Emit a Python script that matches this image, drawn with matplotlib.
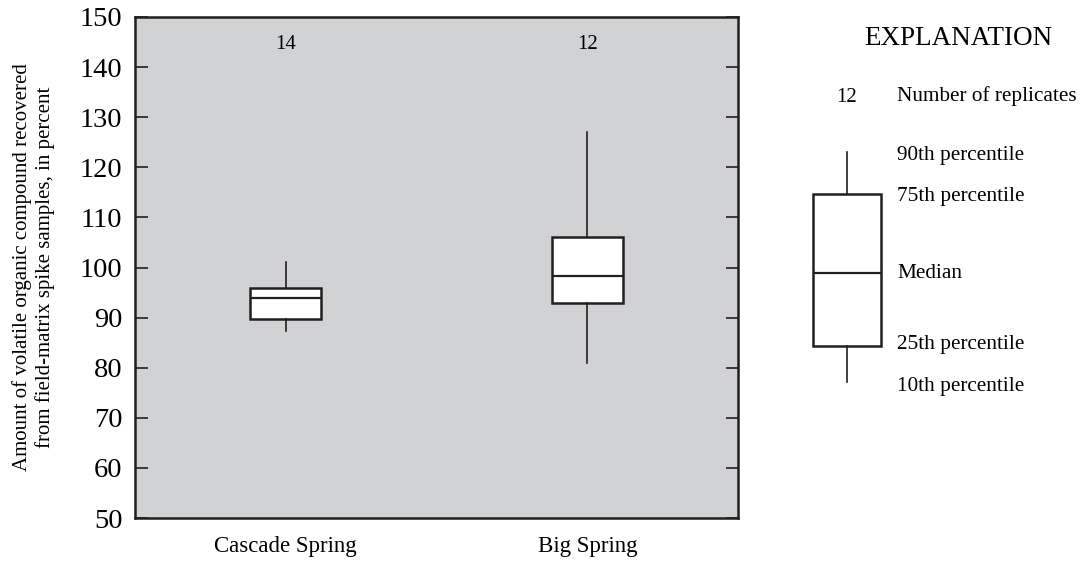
import numpy as np
import matplotlib.pyplot as plt

plt.rcParams['font.family'] = ['Liberation Serif', 'DejaVu Serif']

# data
sites = ['Cascade Spring', 'Big Spring']
p10 = [87.3, 80.9]
p25 = [89.7, 92.9]
median = [94.0, 98.3]
p75 = [96.0, 106.1]
p90 = [101.0, 127.1]
n_replicates = [14, 12]

# explanation (schematic) box, in panel units (0 = bottom, 561 = top)
expl_stats = [179, 215, 288, 367, 409]
expl_labels = ['10th percentile', '25th percentile', 'Median',
               '75th percentile', '90th percentile']
expl_label_y = [174, 216, 288, 365, 406]

dark = '#231f20'
fig = plt.figure(figsize=(10.82, 5.61), dpi=100)
ax = fig.add_axes([135 / 1082, 1 - 518 / 561, 603 / 1082, 501 / 561])
ax.set_facecolor('#d1d2d4')

stats = []
for i in range(len(sites)):
    stats.append(dict(med=median[i], q1=p25[i], q3=p75[i],
                      whislo=p10[i], whishi=p90[i], fliers=[]))

box_kw = dict(showcaps=False, patch_artist=True,
              boxprops=dict(facecolor='white', edgecolor=dark, linewidth=1.8),
              medianprops=dict(color=dark, linewidth=1.6),
              whiskerprops=dict(color=dark, linewidth=1.2))
ax.bxp(stats, positions=[1, 2], widths=0.235, **box_kw)

for i in range(len(sites)):
    ax.text(i + 1, 144.5, str(n_replicates[i]), ha='center', va='center', fontsize=15)

ax.set_xlim(0.5, 2.5)
ax.set_ylim(50, 150)
ax.set_yticks(np.arange(50, 151, 10))
ax.set_xticks([1, 2])
ax.set_xticklabels(sites, fontsize=16.5)
ax.tick_params(axis='y', direction='in', length=9, width=1.2, right=True,
               labelsize=20.5, pad=9, color=dark)
ax.tick_params(axis='x', length=0, pad=13)
for s in ax.spines.values():
    s.set_linewidth(1.8)
    s.set_color(dark)
ax.set_ylabel('Amount of volatile organic compound recovered\n'
              'from field-matrix spike samples, in percent',
              fontsize=15, labelpad=18, linespacing=1.2)

# explanation panel
lax = fig.add_axes([780 / 1082, 0, 302 / 1082, 1])
lax.set_xlim(0, 1)
lax.set_ylim(0, 561)
lax.axis('off')
lax.bxp([dict(med=expl_stats[2], q1=expl_stats[1], q3=expl_stats[3],
              whislo=expl_stats[0], whishi=expl_stats[4], fliers=[])],
        positions=[0.222], widths=0.225, **box_kw)
lax.text(0.59, 523, 'EXPLANATION', ha='center', va='center', fontsize=19.5)
lax.text(0.222, 464, '12', ha='center', va='center', fontsize=15)
lax.text(0.388, 465, 'Number of replicates', ha='left', va='center', fontsize=15.3)
for lab, yv in zip(expl_labels, expl_label_y):
    lax.text(0.388, yv, lab, ha='left', va='center', fontsize=15.3)

fig.savefig('out.png', dpi=100, facecolor='white')
